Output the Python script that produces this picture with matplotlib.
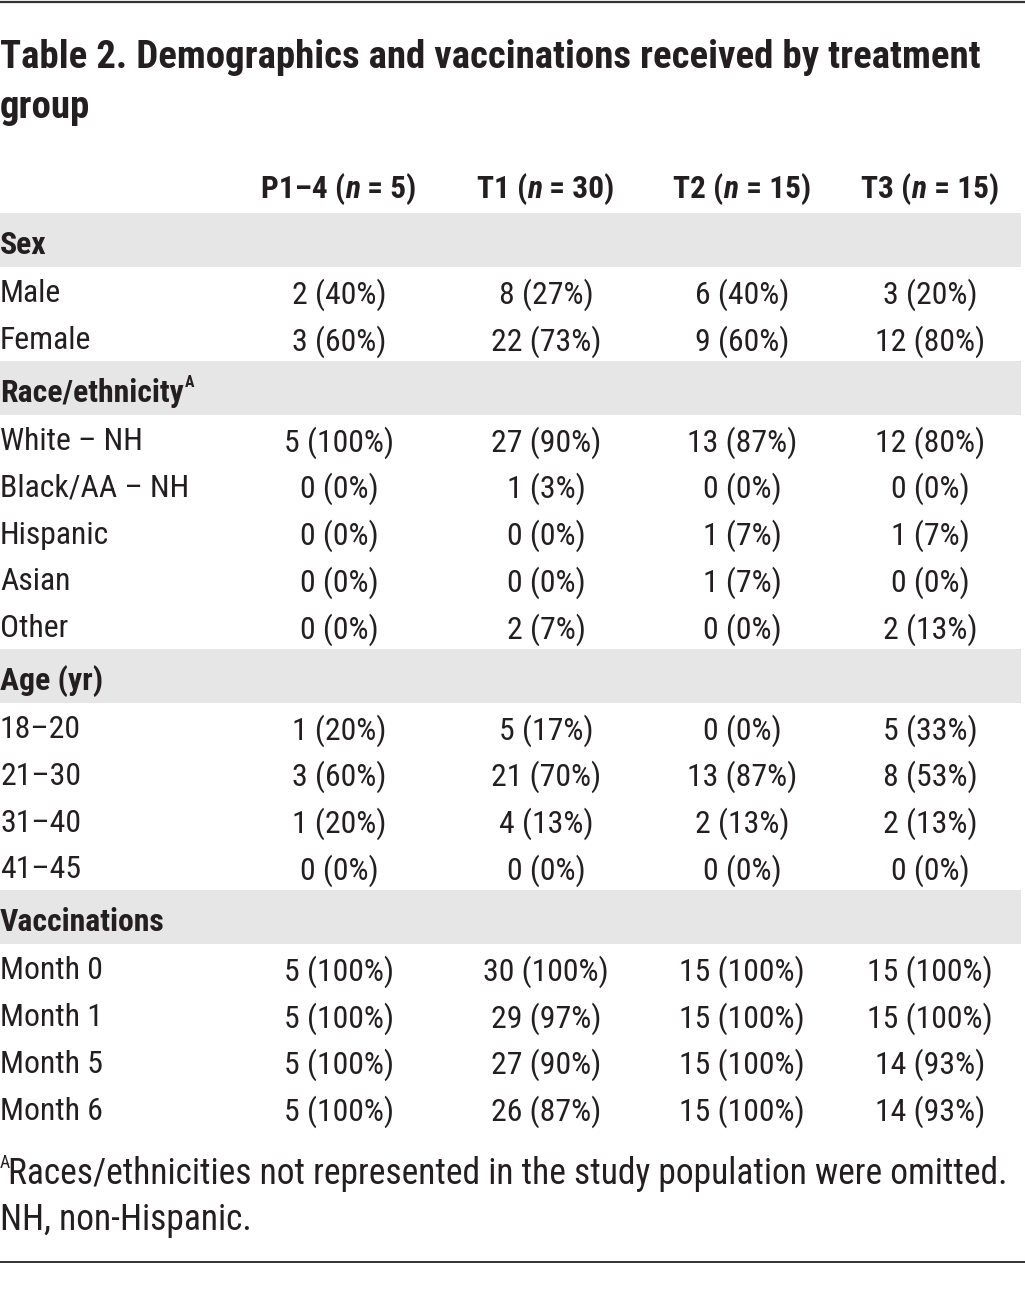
import matplotlib
matplotlib.use("Agg")
import matplotlib.pyplot as plt
from matplotlib import font_manager as fm
from matplotlib.patches import Rectangle

TITLE = ["Table 2. Demographics and vaccinations received by treatment", "group"]
GROUPS = ["P1–4", "T1", "T2", "T3"]
GROUP_N = [5, 30, 15, 15]

SECTIONS = ["Sex", "Race/ethnicity", "Age (yr)", "Vaccinations"]
SECTION_SUP = ["", "A", "", ""]
ROWS = [
    ["Male", "Female"],
    ["White – NH", "Black/AA – NH", "Hispanic", "Asian", "Other"],
    ["18–20", "21–30", "31–40", "41–45"],
    ["Month 0", "Month 1", "Month 5", "Month 6"],
]

# counts and percentages, row order as above (flattened)
P14_N = [2, 3, 5, 0, 0, 0, 0, 1, 3, 1, 0, 5, 5, 5, 5]
P14_PCT = [40, 60, 100, 0, 0, 0, 0, 20, 60, 20, 0, 100, 100, 100, 100]
T1_N = [8, 22, 27, 1, 0, 0, 2, 5, 21, 4, 0, 30, 29, 27, 26]
T1_PCT = [27, 73, 90, 3, 0, 0, 7, 17, 70, 13, 0, 100, 97, 90, 87]
T2_N = [6, 9, 13, 0, 1, 1, 0, 0, 13, 2, 0, 15, 15, 15, 15]
T2_PCT = [40, 60, 87, 0, 7, 7, 0, 0, 87, 13, 0, 100, 100, 100, 100]
T3_N = [3, 12, 12, 0, 1, 0, 2, 5, 8, 2, 0, 15, 15, 14, 14]
T3_PCT = [20, 80, 80, 0, 7, 0, 13, 33, 53, 13, 0, 100, 100, 93, 93]

FOOTNOTE = ["Races/ethnicities not represented in the study population were omitted.",
            "NH, non-Hispanic."]

TXT = "#231f20"
BAND = "#e6e6e6"
W, H = 1025, 1290
COL_X = [339, 546, 742, 930]


def _weight(e):
    w = e.weight
    if isinstance(w, str):
        w = fm.weight_dict.get(w, 400)
    return int(w)


def pick_font(bold=False, italic=False):
    # prefer a narrow / condensed face, the reference uses one
    prefs = ["liberation sans narrow", "roboto condensed", "open sans condensed",
             "noto sans condensed", "dejavu sans condensed", "noto sans"]
    cands = []
    for e in fm.fontManager.ttflist:
        tag = (e.name + " " + e.fname).lower()
        narrow = ("narrow" in tag or "condensed" in tag
                  or e.stretch in ("condensed", "semi-condensed", "extra-condensed", "narrow"))
        if not narrow or "cjk" in tag or "mono" in tag or ("serif" in tag and "sans" not in tag):
            continue
        flat = tag.replace("-", "").replace(" ", "")
        rank_extra = 1 if ("semicondensed" in flat or "extracondensed" in flat) else 0
        is_it = e.style in ("italic", "oblique") or "italic" in e.fname.lower()
        if is_it != italic:
            continue
        rank = len(prefs)
        for i, p in enumerate(prefs):
            if p in tag.replace("-", " "):
                rank = i
                break
        cands.append((rank, rank_extra, abs(_weight(e) - (700 if bold else 400)), e.fname))
    if cands:
        cands.sort()
        return fm.FontProperties(fname=cands[0][3])
    return fm.FontProperties(family="Liberation Sans",
                             weight="bold" if bold else "normal",
                             style="italic" if italic else "normal")


F_REG = pick_font()
F_BOLD = pick_font(bold=True)
F_BOLDIT = pick_font(bold=True, italic=True)

fig = plt.figure(figsize=(W / 100, H / 100), dpi=100)
ax = fig.add_axes([0, 0, 1, 1])
ax.set_xlim(0, W)
ax.set_ylim(H, 0)
ax.axis("off")
fig.canvas.draw()
renderer = fig.canvas.get_renderer()


def width_at(text, fp, size):
    p = fp.copy()
    p.set_size(size)
    t = ax.text(0, 0, text, fontproperties=p)
    w = t.get_window_extent(renderer).width
    t.remove()
    return w


def fit_size(text, fp, target):
    return 10 * target / width_at(text, fp, 10)


def put(x, y, text, fp, size, ha="left"):
    p = fp.copy()
    p.set_size(size)
    return ax.text(x, y, text, fontproperties=p, color=TXT, ha=ha, va="center_baseline")


S_TITLE = fit_size(TITLE[0], F_BOLD, 982)
S_BODY = fit_size("22 (73%) Female", F_REG, 106 + 90) * 1.06
S_HEAD = fit_size("P1–4 (n = 5)", F_BOLD, 156)
S_FOOT = fit_size(FOOTNOTE[0], F_REG, 993)

ax.plot([0, W], [2, 2], color="#333333", lw=1.6, solid_capstyle="butt")
ax.plot([0, W], [1262, 1262], color="#333333", lw=1.4, solid_capstyle="butt")

for i, line in enumerate(TITLE):
    put(0, 53 + i * 51, line, F_BOLD, S_TITLE)

for g, n, x in zip(GROUPS, GROUP_N, COL_X):
    runs = [(f"{g} (", F_BOLD), ("n", F_BOLDIT), (f" = {n})", F_BOLD)]
    ws = [width_at(s + "|", f, S_HEAD) - width_at("|", f, S_HEAD) for s, f in runs]
    x0 = x - sum(ws) / 2
    for (s, f), w in zip(runs, ws):
        put(x0, 186, s, f, S_HEAD)
        x0 += w

cols = [(P14_N, P14_PCT), (T1_N, T1_PCT), (T2_N, T2_PCT), (T3_N, T3_PCT)]

y = 241
k = 0
for sec, sup, rows in zip(SECTIONS, SECTION_SUP, ROWS):
    ax.add_patch(Rectangle((0, y - 28), 1021, 54, facecolor=BAND, edgecolor="none", zorder=0))
    put(0, y + 1, sec, F_BOLD, S_BODY)
    if sup:
        w = width_at(sec, F_BOLD, S_BODY)
        put(w + 1, y - 8, sup, F_BOLD, S_BODY * 0.5)
    y += 50
    for r in rows:
        put(0, y, r, F_REG, S_BODY)
        for (ns, ps), x in zip(cols, COL_X):
            put(x, y, f"{ns[k]} ({ps[k]}%)", F_REG, S_BODY, ha="center")
        k += 1
        y += 46.8
    y += 4

put(0, 1161, "A", F_REG, S_FOOT * 0.5)
put(8, 1170, FOOTNOTE[0], F_REG, S_FOOT)
put(0, 1216, FOOTNOTE[1], F_REG, S_FOOT)

fig.savefig("out.png", dpi=100)
